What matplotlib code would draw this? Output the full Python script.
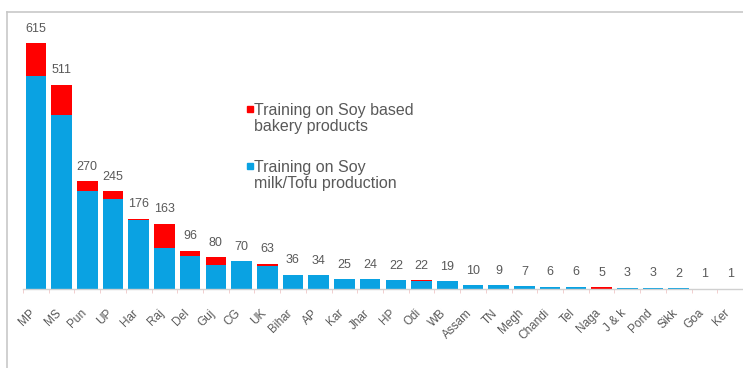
import matplotlib
matplotlib.use("Agg")
import matplotlib.pyplot as plt
import numpy as np
from matplotlib.lines import Line2D
from matplotlib.patches import Rectangle
from matplotlib.transforms import ScaledTranslation

plt.rcParams['font.family'] = ['Liberation Sans', 'DejaVu Sans']

states = ["MP", "MS", "Pun", "UP", "Har", "Raj", "Del", "Guj", "CG", "UK",
          "Bihar", "AP", "Kar", "Jhar", "HP", "Odi", "WB", "Assam", "TN", "Megh",
          "Chandi", "Tel", "Naga", "J & k", "Pond", "Sikk", "Goa", "Ker"]
totals = [615, 511, 270, 245, 176, 163, 96, 80, 70, 63,
          36, 34, 25, 24, 22, 22, 19, 10, 9, 7,
          6, 6, 5, 3, 3, 2, 1, 1]
bakery = [82, 77, 26, 19, 3, 61, 13, 20, 0, 5,
          2, 0, 0, 0, 0, 2, 0, 0, 0, 0,
          0, 0, 5, 0, 0, 0, 0, 0]
soymilk_tofu = [t - b for t, b in zip(totals, bakery)]

BLUE = "#0AA2E2"
RED = "#FF0000"
GREY = "#595959"

W, H = 743, 368
fig = plt.figure(figsize=(W / 100, H / 100), dpi=100)
ax = fig.add_axes([23 / W, 1 - 289 / H, 1 - 23 / W, (289 - 29) / H])

x = np.arange(len(states))
ax.bar(x, soymilk_tofu, width=0.8, color=BLUE, zorder=2)
ax.bar(x, bakery, width=0.8, bottom=soymilk_tofu, color=RED, zorder=2)

for xi, t in zip(x, totals):
    ax.annotate(str(t), (xi, t), xytext=(0, 6), textcoords="offset points",
                ha="center", va="bottom", fontsize=9, color=GREY)

ax.set_xlim(-0.5, len(states) - 0.5)
ax.set_ylim(0, 650)

for s in ["top", "right", "left"]:
    ax.spines[s].set_visible(False)
ax.spines["bottom"].set_color("#D0D0D0")
ax.spines["bottom"].set_linewidth(1.0)
ax.set_yticks([])

ax.set_xticks(x)
ax.set_xticklabels(states, rotation=45, ha="right", va="top",
                   rotation_mode="anchor", fontsize=8.5, color=GREY)
ax.set_xticks(np.arange(len(states) + 1) - 0.5, minor=True)
ax.tick_params(axis="x", which="major", length=0, pad=13)
ax.tick_params(axis="x", which="minor", length=3, color="#F0C8C8")
shift = ScaledTranslation(-5 / 72, 0, fig.dpi_scale_trans)
for lab in ax.get_xticklabels():
    lab.set_transform(lab.get_transform() + shift)

# legend entries
def legend_entry(px, py, color, text):
    fig.add_artist(Rectangle((px / W, 1 - (py + 3) / H), 6 / W, 6 / H,
                             transform=fig.transFigure, color=color))
    fig.text((px + 7) / W, 1 - (py - 6) / H, text, ha="left", va="top",
             fontsize=11.5, color=GREY, linespacing=1.1)

legend_entry(247, 109, RED, "Training on Soy based\nbakery products")
legend_entry(247, 166, BLUE, "Training on Soy\nmilk/Tofu production")

# outer frame
fig.add_artist(Line2D([7 / W, 7 / W], [0, 1 - 12 / H], transform=fig.transFigure,
                      color="#C8C8C8", lw=1.2))
fig.add_artist(Line2D([7 / W, 1], [1 - 12 / H, 1 - 12 / H], transform=fig.transFigure,
                      color="#C8C8C8", lw=1.2))

fig.savefig("out.png", dpi=100, facecolor="white")
